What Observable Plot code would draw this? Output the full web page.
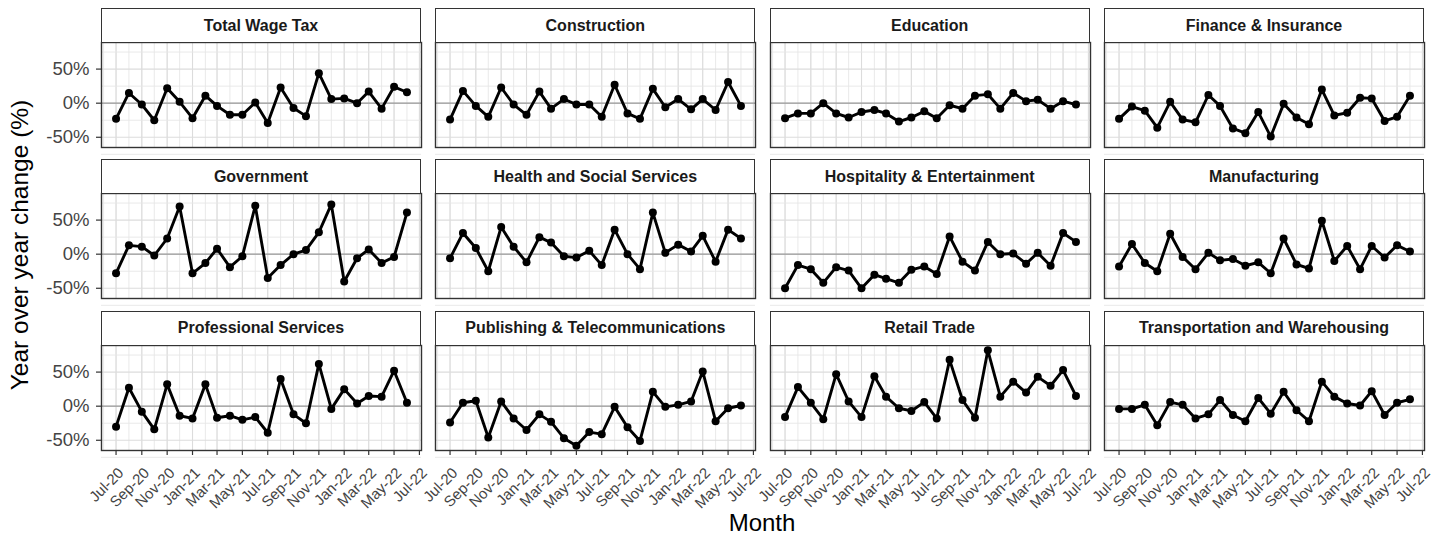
<!DOCTYPE html>
<html>
<head>
<meta charset="utf-8">
<script src="https://cdn.jsdelivr.net/npm/d3@7"></script>
<script src="https://cdn.jsdelivr.net/npm/@observablehq/plot@0.6"></script>
<style>
  html, body { margin: 0; padding: 0; background: #fff; }
  #chart { position: relative; width: 1440px; height: 535px; font-family: "Liberation Sans", Arial, sans-serif; overflow: hidden; }
  .strip { position: absolute; box-sizing: border-box; border: 1.4px solid #333; background: #fff;
           display: flex; align-items: center; justify-content: center;
           font-weight: bold; font-size: 16px; color: #1a1a1a; }
  .ytitle { position: absolute; white-space: nowrap; font-size: 24.5px; color: #000;
            transform: translate(-50%, -50%) rotate(-90deg); line-height: 24px; }
  .xtitle { position: absolute; white-space: nowrap; font-size: 24px; color: #000;
            transform: translateX(-50%); line-height: 20px; }
</style>
</head>
<body>
<div id="chart"></div>
<script>
// Monthly year-over-year change in wage tax collections, by sector (%)
const months = [
  "2020-07","2020-08","2020-09","2020-10","2020-11","2020-12",
  "2021-01","2021-02","2021-03","2021-04","2021-05","2021-06",
  "2021-07","2021-08","2021-09","2021-10","2021-11","2021-12",
  "2022-01","2022-02","2022-03","2022-04","2022-05","2022-06"
];
const tickLabels = ["Jul-20","Sep-20","Nov-20","Jan-21","Mar-21","May-21","Jul-21",
                    "Sep-21","Nov-21","Jan-22","Mar-22","May-22","Jul-22"];
const yTicks = [-50, 0, 50];
const yMinorTicks = [-75, -25, 25, 75];

const sectors = [
  "Total Wage Tax", "Construction", "Education", "Finance & Insurance",
  "Government", "Health and Social Services", "Hospitality & Entertainment", "Manufacturing",
  "Professional Services", "Publishing & Telecommunications", "Retail Trade", "Transportation and Warehousing"
];

const totalWageTax   = [-23, 15, -2, -25, 22, 2, -22, 11, -4, -17, -17, 1, -29, 23, -7, -19, 44, 6, 7, 0, 17, -8, 24, 16];
const construction   = [-24, 18, -4, -20, 23, -2, -17, 17, -8, 6, -2, -2, -20, 27, -15, -23, 21, -6, 6, -9, 6, -10, 31, -4];
const education      = [-22, -15, -15, 0, -15, -21, -13, -10, -15, -27, -21, -12, -22, -3, -8, 11, 13, -8, 15, 3, 5, -8, 3, -2];
const finance        = [-23, -5, -11, -36, 2, -24, -28, 12, -4, -37, -44, -13, -49, -1, -21, -31, 20, -18, -14, 8, 7, -26, -20, 11];
const government     = [-28, 13, 11, -2, 23, 70, -28, -13, 8, -19, -3, 71, -35, -16, 0, 6, 32, 73, -40, -6, 7, -13, -4, 61];
const health         = [-6, 31, 9, -25, 40, 11, -12, 25, 17, -3, -5, 5, -16, 36, 0, -22, 61, 2, 14, 4, 27, -11, 36, 23];
const hospitality    = [-50, -16, -22, -42, -19, -24, -50, -30, -36, -42, -23, -18, -29, 26, -11, -24, 18, 0, 1, -14, 2, -17, 31, 18];
const manufacturing  = [-18, 15, -13, -25, 30, -4, -22, 2, -9, -7, -17, -12, -28, 23, -15, -21, 49, -10, 12, -22, 12, -5, 13, 4];
const professional   = [-30, 27, -8, -34, 32, -14, -18, 32, -17, -14, -20, -16, -39, 40, -12, -25, 62, -4, 25, 4, 15, 14, 52, 5];
const publishing     = [-24, 5, 8, -46, 7, -18, -35, -12, -23, -47, -58, -38, -41, -1, -31, -51, 21, -1, 2, 7, 51, -22, -3, 1];
const retail         = [-16, 28, 5, -19, 47, 7, -16, 44, 14, -3, -7, 6, -18, 68, 9, -17, 82, 14, 36, 20, 43, 30, 53, 15];
const transportation = [-4, -4, 2, -28, 6, 2, -18, -12, 9, -13, -22, 12, -11, 21, -6, -22, 36, 14, 4, 1, 22, -13, 5, 10];

const seriesValues = [
  totalWageTax, construction, education, finance,
  government, health, hospitality, manufacturing,
  professional, publishing, retail, transportation
];

// ---- layout of the 4 x 3 facet grid ----
const nCols = 4;
const panelW = 320, panelH = 105, stripH = 34;
const panelX0 = 101, panelStepX = 334.33;
const panelY0 = 42, panelStepY = 151.3;
const font = "'Liberation Sans', Arial, sans-serif";

const parseMonth = d3.utcParse("%Y-%m");
const parseTick = d3.utcParse("%b-%y");
const dates = months.map(parseMonth);
const tickDates = tickLabels.map(parseTick);

// shared scales, padded 5% beyond the data like a ggplot continuous scale
const [d0, d1] = d3.extent(dates);
const dSpan = d1 - d0;
const xDomain = [new Date(+d0 - 0.05 * dSpan), new Date(+d1 + 0.05 * dSpan)];
const allValues = seriesValues.flat();
const [v0, v1] = d3.extent(allValues);
const vSpan = v1 - v0;
const yDomain = [v0 - 0.05 * vSpan, v1 + 0.05 * vSpan];
const minorMonths = d3.utcMonth.range(xDomain[0], xDomain[1]);

const chart = document.getElementById("chart");

sectors.forEach((name, i) => {
  const col = i % nCols, row = Math.floor(i / nCols);
  const isLeft = col === 0, isBottom = row === 2;
  const left = panelX0 + col * panelStepX;
  const top = panelY0 + row * panelStepY;

  const rows = dates.map((date, k) => ({date, value: seriesValues[i][k]}));

  const mL = isLeft ? left : 2, mR = 2, mT = 2, mB = isBottom ? 70 : 2;

  const marks = [
    Plot.gridX(minorMonths, {stroke: "#e6e6e6", strokeOpacity: 1, strokeWidth: 0.9}),
    Plot.gridX(tickDates, {stroke: "#dcdcdc", strokeOpacity: 1, strokeWidth: 1.1}),
    Plot.gridY(yMinorTicks, {stroke: "#e6e6e6", strokeOpacity: 1, strokeWidth: 0.9}),
    Plot.gridY(yTicks, {stroke: "#dcdcdc", strokeOpacity: 1, strokeWidth: 1.1}),
    Plot.ruleY([0], {stroke: "#999", strokeWidth: 1.3}),
    Plot.line(rows, {x: "date", y: "value", stroke: "#000", strokeWidth: 2.9}),
    Plot.dot(rows, {x: "date", y: "value", r: 4, fill: "#000", stroke: null}),
    Plot.frame({stroke: "#333", strokeWidth: 1.4})
  ];
  if (isLeft) {
    marks.push(Plot.axisY(yTicks, {
      tickFormat: d => `${d}%`, tickSize: 5, tickPadding: 7,
      fontSize: 18.5, fill: "#444", stroke: "#333", strokeWidth: 1.2, label: null
    }));
  }
  if (isBottom) {
    // tick marks
    marks.push(Plot.axisX(tickDates, {
      tickFormat: () => "", tickSize: 5, stroke: "#333", strokeWidth: 1.2, label: null
    }));
    // rotated month labels, hung from the tick ends
    marks.push(Plot.axisX(tickDates, {
      tickFormat: d3.utcFormat("%b-%y"), tickRotate: -45, tickSize: 0, tickPadding: 9,
      dx: 5, dy: 11,
      fontSize: 15, fill: "#444", label: null
    }));
  }

  const svg = Plot.plot({
    width: mL + panelW + mR,
    height: mT + panelH + mB,
    marginLeft: mL, marginRight: mR, marginTop: mT, marginBottom: mB,
    x: {type: "utc", domain: xDomain, axis: isBottom ? undefined : null},
    y: {domain: yDomain, axis: isLeft ? undefined : null},
    style: {fontFamily: font, overflow: "visible", background: "transparent"},
    marks
  });
  svg.style.position = "absolute";
  svg.style.left = `${left - mL}px`;
  svg.style.top = `${top - mT}px`;
  chart.appendChild(svg);

  const strip = document.createElement("div");
  strip.className = "strip";
  strip.style.left = `${left}px`;
  strip.style.top = `${top - stripH}px`;
  strip.style.width = `${panelW}px`;
  strip.style.height = `${stripH + 1}px`;
  strip.textContent = name;
  chart.appendChild(strip);
});

const ytitle = document.createElement("div");
ytitle.className = "ytitle";
ytitle.style.left = "20px";
ytitle.style.top = "245px";
ytitle.textContent = "Year over year change (%)";
chart.appendChild(ytitle);

const xtitle = document.createElement("div");
xtitle.className = "xtitle";
xtitle.style.left = "762px";
xtitle.style.top = "513px";
xtitle.textContent = "Month";
chart.appendChild(xtitle);
</script>
</body>
</html>
